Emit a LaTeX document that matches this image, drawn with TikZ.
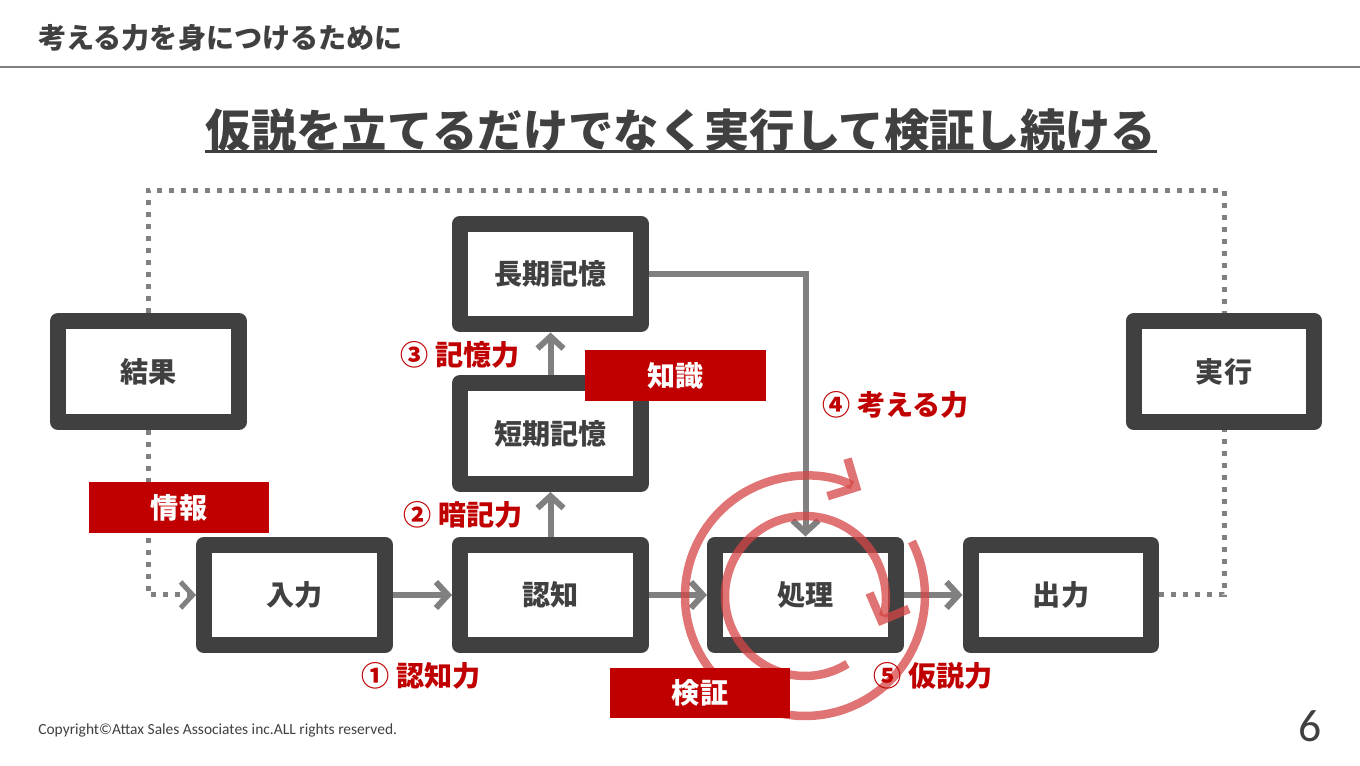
\documentclass[tikz,border=0pt]{standalone}
\usepackage{fontspec}
\setmainfont{Noto Sans CJK JP}
\newfontfamily\latinfont{Carlito}
\usetikzlibrary{arrows.meta,positioning,calc}
\definecolor{boxgray}{RGB}{64,64,64}
\definecolor{arrowgray}{RGB}{128,128,128}
\definecolor{tagred}{RGB}{192,0,0}
\definecolor{spinred}{RGB}{214,70,70}

\begin{document}
\begin{tikzpicture}[x=0.02cm, y=0.02cm,
    block/.style={draw=boxgray, line width=0.32cm, line join=round, fill=white, minimum width=3.62cm, minimum height=2.02cm, inner sep=0pt, text=boxgray, font=\fontsize{16}{18}\selectfont\bfseries},
    tag/.style={fill=tagred, minimum width=3.62cm, minimum height=1.02cm, inner sep=0pt, text=white, font=\fontsize{16}{18}\selectfont\bfseries},
    skill/.style={text=tagred, inner sep=0pt, font=\fontsize{16}{18}\selectfont\bfseries},
    flow/.style={-{Straight Barb[length=0.24cm,width=0.52cm]}, line width=0.12cm, draw=arrowgray},
    dotline/.style={draw=arrowgray, line width=0.1cm, dash pattern=on 0.1cm off 0.14cm},
    spin/.style={draw=spinred, draw opacity=0.75, line width=0.17cm, -{Straight Barb[length=0.42cm,width=0.85cm]}},
]
\useasboundingbox (0,0) rectangle (1360,-766);

% Header
\node[anchor=west, inner sep=0pt, text=boxgray, font=\fontsize{16}{18}\selectfont\bfseries] (header) at (38,-38) {考える力を身につけるために};
\draw[arrowgray, line width=0.04cm] (0,-67) -- (1360,-67);

\node[inner sep=0pt, text=boxgray, font=\fontsize{25.8}{28}\selectfont\bfseries] (title) at (681,-130) {仮説を立てるだけでなく実行して検証し続ける};
\coordinate (ul) at (0,-152);
\draw[boxgray, line width=0.06cm] (title.west |- ul) -- (title.east |- ul);

% Blocks
\node[block] (result) at (148.5,-371.5) {結果};
\node[block] (exec) at (1224,-371.5) {実行};
\node[block] (ltm) at (550.5,-274) {長期記憶};
\node[block] (stm) at (550.5,-433.5) {短期記憶};
\node[block] (input) at (294.5,-595) {入力};
\node[block] (cog) at (550.5,-595) {認知};
\node[block] (proc) at (805.5,-595) {処理};
\node[block] (output) at (1061,-595) {出力};

% Dotted loop
\draw[dotline] (result.north) -- ++(0,123) -| (exec.north);
\draw[dotline, -{Straight Barb[length=0.24cm,width=0.52cm]}] (result.south) |- (input.west);
\draw[dotline] (output.east) -| (exec.south);

% Flow
\draw[flow] (input) -- (cog);
\draw[flow] (cog) -- (proc);
\draw[flow] (proc) -- (output);
\draw[flow] (cog) -- (stm);
\draw[flow] (stm) -- (ltm);
\draw[flow] (ltm.east) -| (proc.north);

% Cycle
\coordinate (hub) at (805,-596);
\draw[spin] ($(hub)+(27:2.4cm)$) arc[start angle=27, end angle=-298, radius=2.4cm];
\draw[spin] ($(hub)+(-58:1.6cm)$) arc[start angle=-58, end angle=-382, radius=1.6cm];

% Tags
\node[tag] (knowledge) at (675.5,-375.5) {知識};
\node[tag] (info) at (179,-507.5) {情報};
\node[tag] (verify) at (700,-693) {検証};

% Skills
\node[skill] (skill3) at (460,-355) {③ 記憶力};
\node[skill] (skill2) at (463,-515) {② 暗記力};
\node[skill] (skill1) at (421,-676) {① 認知力};
\node[skill] (skill4) at (896,-405) {④ 考える力};
\node[skill] (skill5) at (933,-676) {⑤ 仮説力};

% Footer
\node[anchor=west, inner sep=0pt, text=boxgray, font=\latinfont\fontsize{8.8}{10}\selectfont] (copy) at (38,-730) {Copyright©Attax Sales Associates inc.ALL rights reserved.};
\node[inner sep=0pt, text=boxgray, font=\latinfont\fontsize{26}{28}\selectfont] (page) at (1310,-726) {6};

\end{tikzpicture}
\end{document}
